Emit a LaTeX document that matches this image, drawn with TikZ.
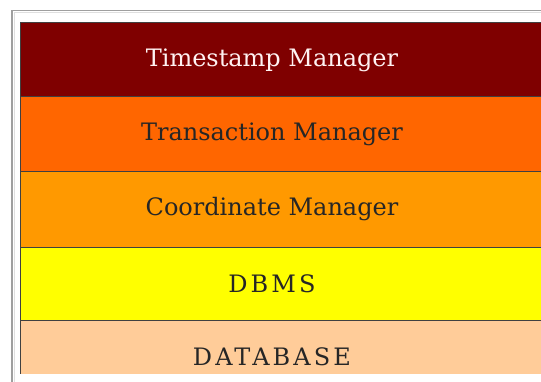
\documentclass[tikz,border=0pt]{standalone}
\usepackage{fontspec}
\setmainfont{DejaVu Serif}
\newfontfamily\capsfont[LetterSpace=13]{DejaVu Serif}
\definecolor{cTS}{HTML}{7F0000}
\definecolor{cTM}{HTML}{FF6600}
\definecolor{cCM}{HTML}{FF9900}
\definecolor{cDB}{HTML}{FFFF00}
\definecolor{cDA}{HTML}{FFCC99}
\begin{document}
\begin{tikzpicture}[x=1pt,y=-1pt,
  band/.style={draw=black!75,line width=0.8pt},
  lbl/.style={font=\fontsize{24}{28}\selectfont,text=black!85,inner sep=0pt},
  capslbl/.style={lbl,font=\capsfont\fontsize{24}{28}\selectfont}]
\useasboundingbox (0,0) rectangle (541,381);
\clip (0,0) rectangle (541,381);
% outer frame
\draw[gray!75,line width=1.6pt] (12,395) -- (12,10.5) -- (560,10.5);
\draw[gray!25,line width=1pt] (14,395) -- (14,12.5) -- (560,12.5);
% bands
\filldraw[band,fill=cTS] (20,22) rectangle (560,96.5);
\filldraw[band,fill=cTM] (20,96.5) rectangle (560,171);
\filldraw[band,fill=cCM] (20,171) rectangle (560,247.5);
\filldraw[band,fill=cDB] (20,247.5) rectangle (560,320.5);
\fill[fill=cDA] (20,320.5) rectangle (560,374);
\draw[band] (20,320.5) -- (560,320.5);
\draw[band] (20,320.5) -- (20,374);
% labels
\node[lbl,text=white!95!red] (ts) at (272,60) {Timestamp Manager};
\node[lbl] (tm) at (272,134) {Transaction Manager};
\node[lbl] (cm) at (272,209) {Coordinate Manager};
\node[capslbl] (dbms) at (272,284) {DBMS};
\node[capslbl] (db) at (272,357) {DATABASE};
\end{tikzpicture}
\end{document}
